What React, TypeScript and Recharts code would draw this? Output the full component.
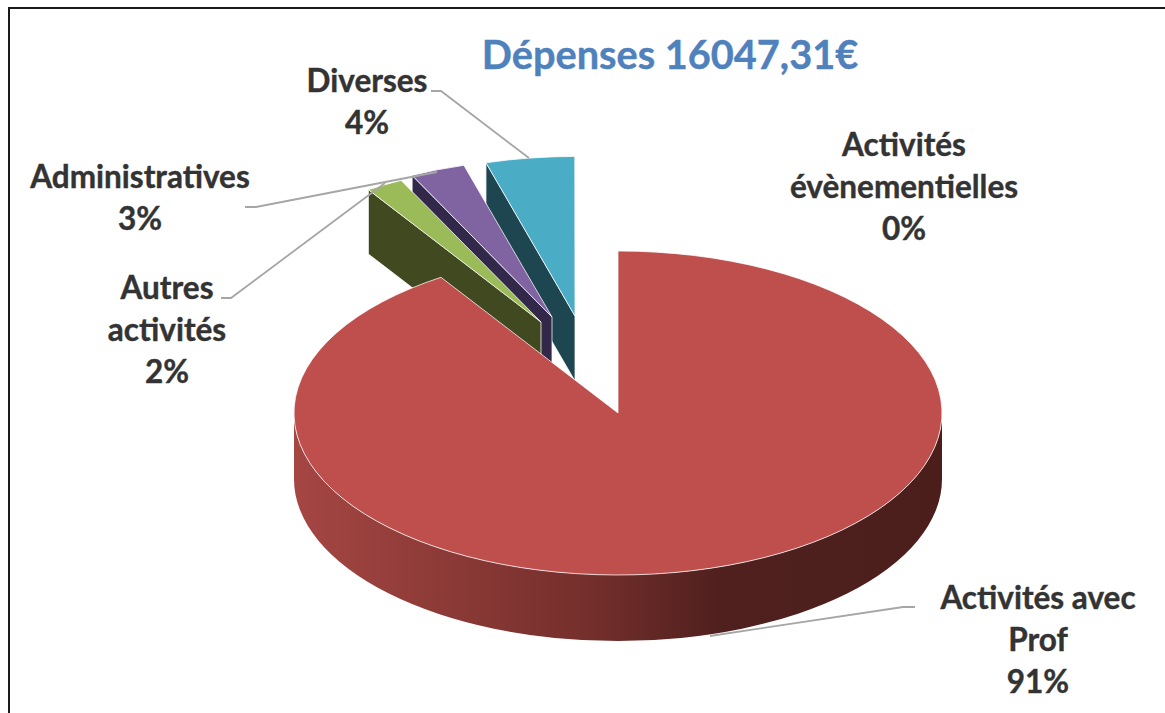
import { PieChart, Pie } from 'recharts';

// clockwise from 12 o'clock the picture reads prof, autres, admin, diverses, évènementielles.
// listed the other way round because the pie runs counter-clockwise, so the big slice paints last
const categories = ['Activités évènementielles', 'Diverses', 'Administratives', 'Autres activités', 'Activités avec Prof'];
const values = [0.01, 4.49, 2.8, 1.9, 90.8];
const labelLines = [['Activités', 'évènementielles'], ['Diverses'], ['Administratives'], ['Autres', 'activités'], ['Activités avec', 'Prof']];

const W = 1165;
const H = 713;
const CX = 618;
const CY = 413;
const RX = 324;
const TILT = 0.5;
const DEPTH = 66;
const INK = '#333333';
const FONT = "Lato, 'Open Sans', sans-serif";

const tableData = categories.map((name, i) => ({ name, value: values[i] }));

const STYLE: Record<string, any> = {
  'Activités évènementielles': { top: '#F79646', wall: '#7F4A1E', dx: 0, dy: 0, scale: 1, lx: 904, ly: 156, leader: '' },
  'Diverses': { top: '#4BACC6', wall: '#1D4650', dx: -43, dy: -97, scale: 0.985, lx: 367, ly: 92, leader: '431,91 441,91 529,158' },
  'Administratives': { top: '#8064A2', wall: '#32294A', dx: -66, dy: -96, scale: 0.975, lx: 140, ly: 188, leader: '245,207 256,207 437,172' },
  'Autres activités': { top: '#9BBB59', wall: '#40491F', dx: -77, dy: -91, scale: 0.975, lx: 167, ly: 299, leader: '221,298 231,298 385,183' },
  'Activités avec Prof': { top: '#BE4F4C', wall: 'url(#profSide)', dx: 0, dy: 0, scale: 1, lx: 1038, ly: 609, leader: '915,607 903,607 710,636' },
};

// recharts hands over plain angles; this flattens them onto the tilted ellipse
function Slice3D(props: any) {
  const { cx, cy, outerRadius, startAngle, endAngle, name } = props;
  const s = STYLE[name];
  if (!s || endAngle - startAngle < 0.1) return null;
  const x0 = cx + s.dx;
  const y0 = cy + s.dy;
  const rx = outerRadius * s.scale;
  const ry = rx * TILT;
  const depth = DEPTH * s.scale;
  const pt = (a: number, drop = 0) => {
    const r = (a * Math.PI) / 180;
    return `${x0 + rx * Math.cos(r)} ${y0 - ry * Math.sin(r) + drop}`;
  };
  const span = endAngle - startAngle;
  const edge = { stroke: '#FFFFFF', strokeOpacity: 0.75, strokeWidth: 1 };

  let side = null;
  if (span > 180) {
    side = (
      <>
        <defs>
          <linearGradient id="profSide" gradientUnits="userSpaceOnUse" x1={cx - rx} y1={0} x2={cx + rx} y2={0}>
            <stop offset="0" stopColor="#A54643" />
            <stop offset="0.45" stopColor="#752F2C" />
            <stop offset="0.66" stopColor="#4F201E" />
            <stop offset="1" stopColor="#4B1E1C" />
          </linearGradient>
        </defs>
        <path d={`M ${pt(180)} A ${rx} ${ry} 0 0 0 ${pt(360)} L ${pt(360, depth)} A ${rx} ${ry} 0 0 1 ${pt(180, depth)} Z`} fill={s.wall} />
      </>
    );
  } else {
    side = (
      <path d={`M ${x0} ${y0} L ${pt(endAngle)} L ${pt(endAngle, depth)} L ${x0} ${y0 + depth} Z`} fill={s.wall} {...edge} />
    );
  }

  return (
    <g>
      {side}
      <path
        d={`M ${x0} ${y0} L ${pt(startAngle)} A ${rx} ${ry} 0 ${span > 180 ? 1 : 0} 0 ${pt(endAngle)} Z`}
        fill={s.top}
        {...edge}
      />
    </g>
  );
}

function SliceLabel(props: any) {
  const { name, percent } = props;
  const s = STYLE[name];
  if (!s) return null;
  const lines = [...labelLines[categories.indexOf(name)], `${Math.round(percent * 100)}%`];
  return (
    <g>
      {s.leader && <polyline points={s.leader} fill="none" stroke="#A6A6A6" strokeWidth={1.8} />}
      <text textAnchor="middle" fontFamily={FONT} fontWeight={700} fontSize={31.5} fill={INK} stroke={INK} strokeWidth={0.4}>
        {lines.map((l, i) => (
          <tspan key={i} x={s.lx} y={s.ly + i * 42}>{l}</tspan>
        ))}
      </text>
    </g>
  );
}

export default function App() {
  return (
    <div style={{ position: 'absolute', left: 0, top: 0, width: W, height: H, background: '#FFFFFF', overflow: 'hidden' }}>
      <div style={{ position: 'absolute', left: 8, top: 7, width: W, height: H,
        borderLeft: '2px solid #1A1A1A', borderTop: '2px solid #1A1A1A' }} />
      <div style={{ position: 'absolute', left: 420, width: 500, top: 29, textAlign: 'center', fontFamily: FONT,
        fontWeight: 700, fontSize: 39.7, lineHeight: '50px', color: '#4F81BD', whiteSpace: 'nowrap',
        WebkitTextStroke: '0.4px #4F81BD' }}>
        Dépenses 16047,31€
      </div>
      <div style={{ position: 'absolute', left: 0, top: 0 }}>
        <PieChart width={W} height={H} margin={{ top: 0, right: 0, bottom: 0, left: 0 }} style={{ background: 'transparent' }}>
          <Pie
            data={tableData}
            dataKey="value"
            nameKey="name"
            cx={CX}
            cy={CY}
            innerRadius={0}
            outerRadius={RX}
            startAngle={90}
            endAngle={450}
            stroke="none"
            shape={Slice3D}
            label={SliceLabel}
            labelLine={false}
            isAnimationActive={false}
          />
        </PieChart>
      </div>
    </div>
  );
}
